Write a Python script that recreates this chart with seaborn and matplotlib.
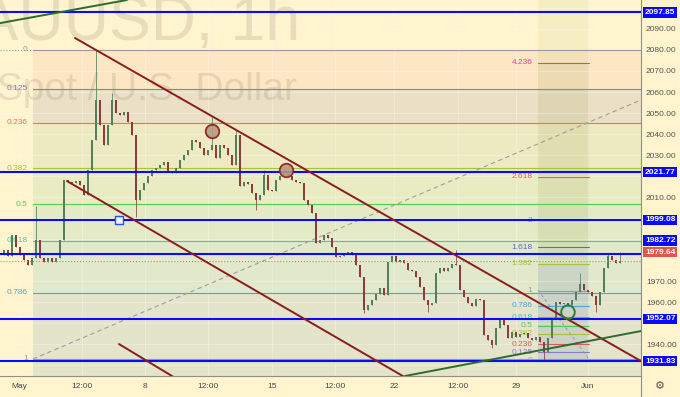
import matplotlib
matplotlib.use("Agg")
import matplotlib.pyplot as plt
from matplotlib.lines import Line2D
import seaborn as sns
import numpy as np

# XAUUSD 1h, closes every 4 bars (oldest first)
closes = [
    1982.4, 1984.8, 1981.9, 1991.9, 1986.2, 1982.4, 1980.0, 1977.6, 1980.9, 1989.5,
    1980.9, 1979.0, 1980.9, 1979.0, 1980.9, 1989.5, 2018.1, 2017.1, 2016.7, 2017.6,
    2015.7, 2010.9, 2022.8, 2037.1, 2056.2, 2044.3, 2034.8, 2044.3, 2056.2, 2050.0,
    2049.0, 2050.5, 2045.7, 2039.5, 2008.6, 2013.3, 2016.7, 2020.0, 2022.8, 2023.8,
    2025.2, 2026.7, 2021.9, 2021.4, 2023.8, 2027.6, 2030.0, 2032.4, 2037.1, 2036.2,
    2033.3, 2030.0, 2032.4, 2034.8, 2028.6, 2034.8, 2033.3, 2030.0, 2025.2, 2039.5,
    2015.2, 2017.1, 2016.2, 2011.9, 2008.6, 2010.9, 2020.5, 2013.3, 2012.8, 2018.1,
    2020.0, 2021.4, 2020.0, 2018.1, 2017.1, 2016.7, 2008.6, 2006.2, 2002.4, 1988.1,
    1989.5, 1991.9, 1990.5, 1986.2, 1981.4, 1981.9, 1982.8, 1983.8, 1982.4, 1977.6,
    1971.9, 1956.2, 1958.6, 1960.9, 1963.8, 1966.7, 1963.3, 1979.0, 1981.9, 1979.0,
    1980.0, 1978.5, 1975.2, 1974.6, 1971.9, 1967.1, 1960.9, 1958.6, 1959.5, 1973.8,
    1976.2, 1974.8, 1976.2, 1978.1, 1977.6, 1965.7, 1962.4, 1959.5, 1958.1, 1961.4,
    1960.9, 1944.3, 1941.9, 1939.5, 1947.6, 1952.4, 1949.0, 1942.9, 1945.7, 1943.3,
    1944.8, 1945.2, 1942.9, 1941.9, 1943.3, 1941.0, 1936.2, 1942.9, 1952.4, 1960.0,
    1959.0, 1959.5, 1958.6, 1960.9, 1964.8, 1968.6, 1965.7, 1964.8, 1962.9, 1958.6,
    1964.8, 1976.2, 1981.9, 1980.0, 1978.5, 1979.64,
]
# long wicks
spike_bars = [9, 24, 28, 34, 53, 59, 64, 66, 71, 91, 107, 114, 123, 136, 145, 149, 152, 155]
spike_prices = [2005.7, 2080.0, 2059.5, 2000.5, 2048.1, 2041.9, 2003.8, 2022.8, 2024.3,
                1954.8, 1955.2, 1984.8, 1938.1, 1931.8, 1973.8, 1955.2, 1983.3, 1983.8]

time_ticks = [4.75, 20.5, 36.25, 52, 68, 83.75, 98.5, 114.5, 129, 147]
time_labels = ["May", "12:00", "8", "12:00", "15", "12:00", "22", "12:00", "29", "Jun"]
price_ticks = [2090, 2080, 2070, 2060, 2050, 2040, 2030, 2010, 1990, 1970, 1960, 1940]

level_prices = [2097.85, 2021.77, 1999.08, 1982.72, 1952.07, 1931.83]
last_price = 1979.64
# axis badges that TradingView pushes apart so they don't collide
badge_shift = {1982.72: 6.6, 1979.64: 4.1}

# fib retracement
retr_ratios = [0, 0.125, 0.236, 0.382, 0.5, 0.618, 0.786, 1]
retr_labels = ["0", "0.125", "0.236", "0.382", "0.5", "0.618", "0.786", "1"]
retr_colors = ["#9a9a9a", "#8c7cc4", "#e07868", "#a8c23a", "#56c956", "#3ccf9f", "#45a8d8", "#9a9a9a"]
retr_fills = ["#fce6c3", "#ebe0c5", "#edeac2", "#e9ebc3", "#e5eac6", "#e2e8ca", "#e4e4cb"]
retr_top, retr_bottom = 2080.0, 1932.9
retr_start = 8.25

# fib extension
ext_ratios = [0, 0.125, 0.236, 0.382, 0.5, 0.618, 0.786, 1, 1.382, 1.618, 2, 2.618, 4.236]
ext_labels = ["0", "0.125", "0.236", "0.382", "0.5", "0.618", "0.786", "1", "1.382", "1.618", "2", "2.618", "4.236"]
ext_colors = ["#9a9a9a", "#8c7cc4", "#e05a5a", "#a8c23a", "#4cc94c", "#2fcf95", "#45a8d8", "#9a9a9a",
              "#a8c23a", "#5c6bc0", "#2fbf9f", "#e05a5a", "#e040a0"]
ext_base, ext_size = 1932.0, 33.5
ext_x0, ext_x1 = 134.5, 147.25

# drawings
upper_ch_x, upper_ch_y = [18.75, 160.25], [2085.7, 1931.9]
lower_ch_x, lower_ch_y = [16.75, 102.5], [2017.6, 1922.8]
short_ch_x, short_ch_y = [29.75, 45.0], [1940.0, 1922.5]
green_lo_x, green_lo_y = [101.25, 160.25], [1924.8, 1946.2]
green_hi_x, green_hi_y = [0, 31.75], [2092.8, 2103.8]
dash_x, dash_y = [8.25, 160.25], [1932.9, 2056.2]
red_marks_x, red_marks_y = [53, 71.5], [2041.4, 2022.8]
green_mark_x, green_mark_y = [142], [1955.2]
box_mark_x, box_mark_y = [29.75], [1999.08]

BG = "#fff4ce"
sns.set_theme(style="white", rc={"axes.facecolor": BG, "figure.facecolor": BG})
plt.rcParams["font.family"] = ["Liberation Sans", "DejaVu Sans"]

fig = plt.figure(figsize=(6.8, 3.97), dpi=100)
ax = fig.add_axes([0, 21 / 397, 641 / 680, 376 / 397])
xmax = 160.25
ax.set_xlim(0, xmax)
ax.set_ylim(1924.8, 2103.8)

# retracement bands
levels = [retr_top - r * (retr_top - retr_bottom) for r in retr_ratios]
for k, c in enumerate(retr_fills):
    lo = levels[k + 1] if k + 1 < len(levels) - 1 else 1924.8
    ax.fill_between([retr_start, xmax], lo, levels[k], color=c, lw=0, zorder=0.5)

# extension column
ext_levels = [ext_base + r * ext_size for r in ext_ratios]
ax.fill_between([ext_x0, ext_x1], ext_levels[-1], 2103.8, color="#9cc060", alpha=0.10, lw=0, zorder=0.6)
ax.fill_between([ext_x0, ext_x1], ext_levels[8], ext_levels[-1], color="#7f8f40", alpha=0.13, lw=0, zorder=0.6)
ax.fill_between([ext_x0, ext_x1], ext_levels[0], ext_levels[8], color="#6c8cb0", alpha=0.20, lw=0, zorder=0.6)

# grid
for p in np.arange(1930, 2101, 10):
    ax.axhline(p, color="#ffffff", alpha=0.35, lw=0.6, zorder=0.8)
for t in time_ticks:
    ax.axvline(t, color="#ffffff", alpha=0.35, lw=0.6, zorder=0.8)

# watermark
ax.text(300 / 641, 1 - 40 / 376, "XAUUSD, 1h", transform=ax.transAxes, ha="right", va="baseline",
        fontsize=45, color="#6e6a58", alpha=0.16, zorder=1)
ax.text(297 / 641, 1 - 100 / 376, "Gold Spot / U.S. Dollar", transform=ax.transAxes, ha="right",
        va="baseline", fontsize=28, color="#6e6a58", alpha=0.16, zorder=1)

# retracement lines + labels
for p, lab, c in zip(levels, retr_labels, retr_colors):
    ax.plot([retr_start, xmax], [p, p], color=c, lw=0.8, zorder=1.5)
    ax.text(6.9, p, lab, ha="right", va="center", fontsize=6, color=c, zorder=1.6)
ax.plot([0, retr_start], [levels[0], levels[0]], color="#9a9a9a", lw=0.8, ls=":", zorder=1.5)

# extension lines + labels
for p, lab, c in zip(ext_levels, ext_labels, ext_colors):
    ax.plot([ext_x0, ext_x1], [p, p], color=c, lw=0.8, zorder=1.5)
    ax.text(133.1, p, lab, ha="right", va="center", fontsize=6, color=c, zorder=1.6)
ax.plot([ext_x0, ext_x1 - 0.2], [1965.7, 1933.3], color="#9a9a9a", lw=0.7, ls=(0, (3, 3)), zorder=1.7)

sns.lineplot(x=dash_x, y=dash_y, ax=ax, color="#9e9e9e", lw=0.8, zorder=1.7, linestyle=(0, (4, 3)))

# candles
opens = [closes[0]] + closes[:-1]
highs = [max(o, c) for o, c in zip(opens, closes)]
lows = [min(o, c) for o, c in zip(opens, closes)]
for b, p in zip(spike_bars, spike_prices):
    if p > highs[b]:
        highs[b] = p
    else:
        lows[b] = min(lows[b], p)
xs = np.arange(len(closes))
up = np.array(closes) >= np.array(opens)
cols = np.where(up, "#527f5e", "#8b3d3d")
ax.vlines(xs, lows, highs, colors=cols, lw=0.55, zorder=2)
body = np.maximum(np.abs(np.array(closes) - np.array(opens)), 0.3)
ax.bar(xs, body, bottom=np.minimum(opens, closes), width=0.5, color=cols, lw=0, zorder=2.1)

# price lines
ax.axhline(last_price, color="#e57373", lw=0.8, ls=":", zorder=2.5)
for p in level_prices:
    ax.axhline(p, color="#0a0aff", lw=1.5, zorder=3)

# trend lines
for lx, ly in [(upper_ch_x, upper_ch_y), (lower_ch_x, lower_ch_y), (short_ch_x, short_ch_y)]:
    sns.lineplot(x=lx, y=ly, ax=ax, color="#8b1c1c", lw=1.4, zorder=3.5)
for lx, ly in [(green_lo_x, green_lo_y), (green_hi_x, green_hi_y)]:
    sns.lineplot(x=lx, y=ly, ax=ax, color="#2e6b2e", lw=1.4, zorder=3.5)

sns.scatterplot(x=red_marks_x, y=red_marks_y, ax=ax, s=95, color="#b89a82", edgecolor="#8b1c1c",
                linewidth=1.3, alpha=0.9, zorder=4)
sns.scatterplot(x=green_mark_x, y=green_mark_y, ax=ax, s=95, facecolor="none", edgecolor="#2e7d32",
                linewidth=1.4, zorder=4)
sns.scatterplot(x=box_mark_x, y=box_mark_y, ax=ax, s=40, marker="s", color="#eef0ff", edgecolor="#1e50ff",
                linewidth=1.0, zorder=4)

# axes styling
for side in ["top", "left"]:
    ax.spines[side].set_visible(False)
for side in ["right", "bottom"]:
    ax.spines[side].set_color("#8f8f86")
    ax.spines[side].set_linewidth(0.8)
ax.set_xticks(time_ticks, time_labels)
ax.tick_params(axis="x", length=0, pad=5, labelsize=6, labelcolor="#4a4a4a")
ax.yaxis.tick_right()
ax.set_yticks(price_ticks, [f"{v:.2f}" for v in price_ticks])
ax.tick_params(axis="y", length=0, pad=3.5, labelsize=6, labelcolor="#555555")
ax.set_xlabel("")
ax.set_ylabel("")

badges = [(p, "#0a0aff") for p in level_prices] + [(last_price, "#e0564b")]
for p, fc in badges:
    ax.text(1 + 4 / 641, p + badge_shift.get(p, 0), f"{p:.2f}", transform=ax.get_yaxis_transform(),
            ha="left", va="center", fontsize=6, fontweight="bold", color="white", clip_on=False,
            zorder=10, bbox=dict(boxstyle="square,pad=0.2", fc=fc, ec="none"))

fig.add_artist(Line2D([641 / 680, 641 / 680], [0, 21 / 397], color="#8f8f86", lw=0.8))
fig.text(660 / 680, 1 - 386 / 397, "\u2699", ha="center", va="center", fontsize=8, color="#555555",
         family="DejaVu Sans")

fig.savefig("out.png", dpi=100)
